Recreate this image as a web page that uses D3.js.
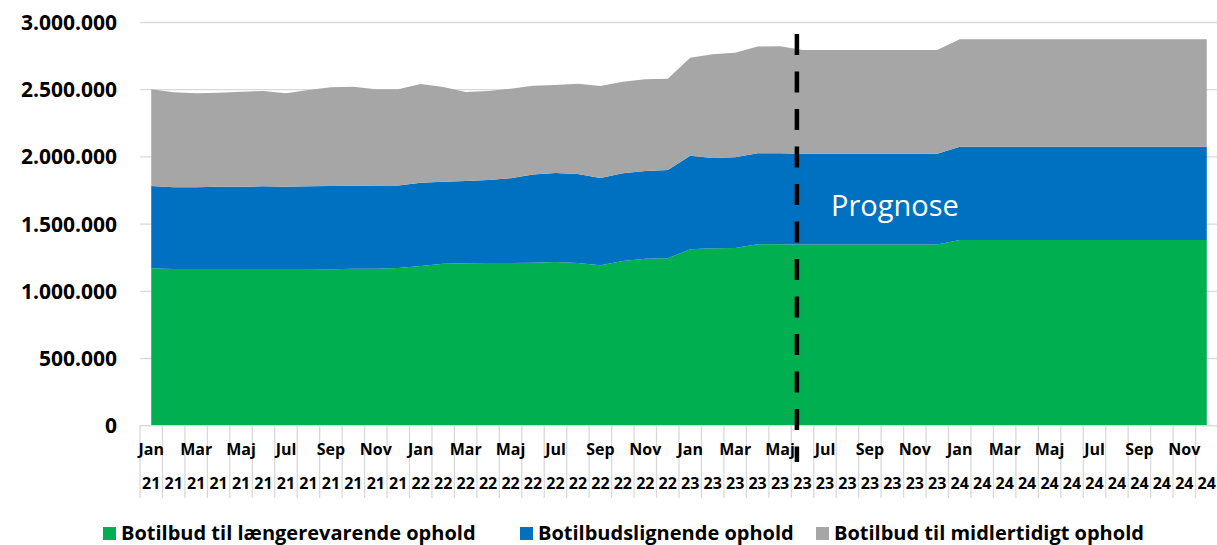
<!DOCTYPE html>
<html>
<head>
<meta charset="utf-8">
<script src="https://cdn.jsdelivr.net/npm/d3@7"></script>
<style>
  body { margin: 0; background: #fff; }
  svg text { font-family: "Open Sans", sans-serif; }
</style>
</head>
<body>
<svg id="chart"></svg>
<script>
// months shown on the axis (Danish), two label rows: month + year
const monthNames = ["Jan","Feb","Mar","Apr","Maj","Jun","Jul","Aug","Sep","Okt","Nov","Dec"];
const years = ["21","22","23","24"];

// series values per month, Jan 21 .. Dec 24
const laengerevarende = [
  1172000,1165000,1165000,1165000,1165000,1165000,1165000,1166000,1164000,1168000,1168000,1173000,
  1188000,1205000,1208000,1211000,1211000,1213000,1218000,1211000,1193000,1225000,1243000,1245000,
  1312000,1320000,1322000,1350000,1350000,1349000,1349000,1349000,1349000,1349000,1349000,1349000,
  1382000,1382000,1382000,1382000,1382000,1382000,1382000,1382000,1382000,1382000,1382000,1382000
];
const botilbudslignende = [
  612000,609000,609000,613000,613000,616000,613000,615000,620000,618000,620000,615000,
  620000,611000,613000,617000,631000,656000,662000,661000,650000,654000,653000,658000,
  696000,672000,676000,677000,677000,674000,674000,674000,674000,674000,674000,674000,
  694000,694000,694000,694000,694000,694000,694000,694000,694000,694000,694000,694000
];
const midlertidigt = [
  719000,707000,699000,700000,707000,709000,695000,716000,734000,736000,715000,715000,
  734000,704000,661000,663000,665000,660000,655000,673000,684000,681000,681000,679000,
  729000,771000,777000,794000,797000,772000,772000,772000,772000,772000,772000,772000,
  799000,799000,799000,799000,799000,799000,799000,799000,799000,799000,799000,799000
];
const yTicks = [0, 500000, 1000000, 1500000, 2000000, 2500000, 3000000];
const seriesNames = ["Botilbud til længerevarende ophold", "Botilbudslignende ophold", "Botilbud til midlertidigt ophold"];
const seriesColors = ["#00b050", "#0070c0", "#a6a6a6"];
const prognoseStart = "Jun 23";

const width = 1217, height = 545;
const margin = { top: 22.5, left: 140, right: -1, bottomAxis: 425.7 };

let months = [];
years.forEach(y => monthNames.forEach(m => months.push({ key: m + " " + y, m: m, y: y })));

let rows = months.map((d, i) => ({
  key: d.key,
  s0: laengerevarende[i],
  s1: botilbudslignende[i],
  s2: midlertidigt[i]
}));

const svg = d3.select("#chart").attr("width", width).attr("height", height);

const x = d3.scaleBand()
  .domain(months.map(d => d.key))
  .range([margin.left, width - margin.right])
  .padding(0);
const xc = k => x(k) + x.bandwidth() / 2;

const y = d3.scaleLinear()
  .domain([0, 3000000])
  .range([margin.bottomAxis, margin.top]);

// gridlines
svg.append("g")
  .selectAll("line")
  .data(yTicks)
  .join("line")
    .attr("x1", margin.left)
    .attr("x2", width)
    .attr("y1", d => y(d))
    .attr("y2", d => y(d))
    .style("stroke", "#d9d9d9")
    .style("stroke-width", 1.3);

// y labels
svg.append("g")
  .selectAll("text")
  .data(yTicks)
  .join("text")
    .attr("x", 117)
    .attr("y", d => y(d))
    .attr("dy", "0.36em")
    .attr("text-anchor", "end")
    .style("font-size", "21px")
    .style("font-weight", "bold")
    .style("fill", "#000")
    .text(d => d3.format(",")(d).replace(/,/g, "."));

// stacked areas
const stack = d3.stack().keys(["s0", "s1", "s2"]);
const layers = stack(rows);

const area = d3.area()
  .x(d => xc(d.data.key))
  .y0(d => y(d[0]))
  .y1(d => y(d[1]));

svg.append("g")
  .selectAll("path")
  .data(layers)
  .join("path")
    .attr("d", area)
    .style("fill", (d, i) => seriesColors[i]);

// category axis: baseline + tick separators
svg.append("line")
  .attr("x1", margin.left).attr("x2", width)
  .attr("y1", y(0)).attr("y2", y(0))
  .style("stroke", "#d9d9d9").style("stroke-width", 1.3);

let bounds = months.map(d => x(d.key));
bounds.push(x(months[months.length - 1].key) + x.bandwidth());
svg.append("g")
  .selectAll("line")
  .data(bounds)
  .join("line")
    .attr("x1", d => d).attr("x2", d => d)
    .attr("y1", y(0)).attr("y2", 498)
    .style("stroke", "#d9d9d9")
    .style("stroke-width", 1.3);

// month labels (every other month)
svg.append("g")
  .selectAll("text")
  .data(months.filter((d, i) => i % 2 === 0))
  .join("text")
    .attr("x", d => xc(d.key))
    .attr("y", 455)
    .attr("text-anchor", "middle")
    .style("font-size", "16px")
    .style("font-weight", "bold")
    .text(d => d.m);

// year labels
svg.append("g")
  .selectAll("text")
  .data(months)
  .join("text")
    .attr("x", d => xc(d.key))
    .attr("y", 489)
    .attr("text-anchor", "middle")
    .style("font-size", "16px")
    .style("font-weight", "bold")
    .text(d => d.y);

// prognose divider
const px = x(prognoseStart) + x.bandwidth() / 4;
svg.append("line")
  .attr("x1", px).attr("x2", px)
  .attr("y1", 34).attr("y2", 462)
  .style("stroke", "#000")
  .style("stroke-width", 4.5)
  .style("stroke-dasharray", "21 16.5");

svg.append("text")
  .attr("x", 831)
  .attr("y", 216)
  .style("font-size", "29px")
  .style("fill", "#fff")
  .text("Prognose");

// legend
const legendX = [103, 520, 816];
const lg = svg.append("g")
  .selectAll("g")
  .data(seriesNames)
  .join("g")
    .attr("transform", (d, i) => `translate(${legendX[i]},527)`);
lg.append("rect")
  .attr("width", 13).attr("height", 13)
  .style("fill", (d, i) => seriesColors[i]);
lg.append("text")
  .attr("x", 18)
  .attr("y", 13)
  .style("font-size", "20px")
  .style("font-weight", "bold")
  .text(d => d);
</script>
</body>
</html>
